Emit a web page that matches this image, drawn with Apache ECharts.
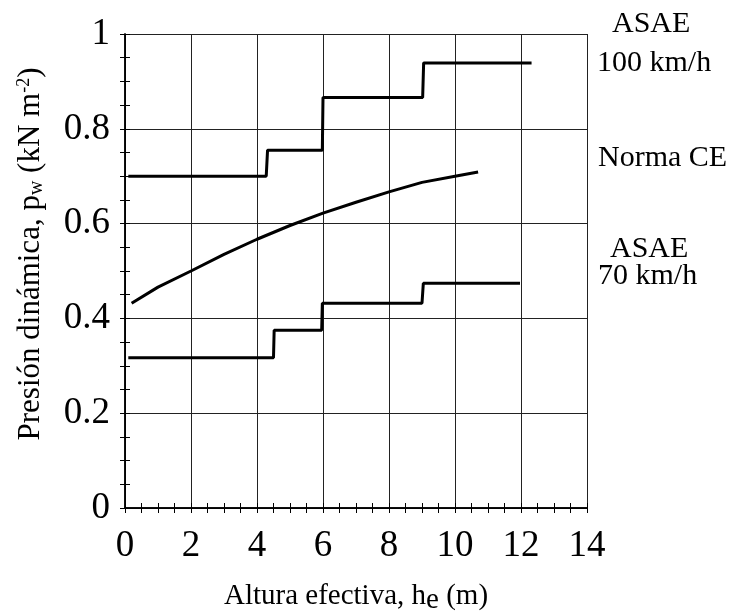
<!DOCTYPE html>
<html>
<head>
<meta charset="utf-8">
<script src="https://cdn.jsdelivr.net/npm/echarts@6/dist/echarts.min.js"></script>
<style>
  html, body { margin: 0; padding: 0; background: #fff; }
  #chart-container { width: 735px; height: 611px; }
</style>
</head>
<body>
<div id="chart-container"></div>
<script>
'use strict';

// ASAE 100 km/h, stepped profile [h (m), p (kN/m2)]
const asae100 = [
    [0.1, 0.700], [4.28, 0.700], [4.32, 0.755], [5.98, 0.755],
    [6.0, 0.866], [9.02, 0.866], [9.05, 0.939], [12.32, 0.939]
];
// ASAE 70 km/h
const asae70 = [
    [0.1, 0.317], [4.5, 0.317], [4.52, 0.375], [5.96, 0.375],
    [5.98, 0.432], [9.0, 0.432], [9.04, 0.474], [11.97, 0.474]
];
// Norma CE curve
const normaCE = [
    [0.2, 0.432], [1, 0.466], [2, 0.500], [3, 0.535], [4, 0.567],
    [5, 0.596], [6, 0.622], [7, 0.645], [8, 0.667], [9, 0.687],
    [10, 0.700], [10.7, 0.709]
];

const xTicks = [0, 2, 4, 6, 8, 10, 12, 14];
const yTicks = [0, 0.2, 0.4, 0.6, 0.8, 1];

const serif = 'Liberation Serif';
const noteFont = '30px "Liberation Serif"';

let myChart = echarts.init(
    document.getElementById('chart-container'),
    null,
    { renderer: 'canvas' }
);

const lineSeries = (name, data) => ({
    name: name,
    type: 'line',
    data: data,
    showSymbol: false,
    symbol: 'none',
    lineStyle: { color: '#000', width: 3 },
    silent: true,
    z: 5
});

const frameTicks = {
    axisLine: { show: true, lineStyle: { color: '#000', width: 1.5 } },
    axisTick: { show: true, inside: true, length: 5, lineStyle: { color: '#000' } },
    minorTick: { show: true, splitNumber: 4, length: 5, lineStyle: { color: '#000' } }
};

const option = {
    backgroundColor: '#fff',
    animation: false,
    grid: {
        left: 125, right: 148, top: 34, bottom: 103,
        containLabel: false,
        outerBoundsMode: 'none'
    },
    xAxis: [
        {
            type: 'value',
            min: xTicks[0],
            max: xTicks[xTicks.length - 1],
            interval: 2,
            position: 'bottom',
            ...frameTicks,
            axisLabel: {
                color: '#000', fontFamily: serif, fontSize: 37, margin: 20
            },
            splitLine: { show: true, lineStyle: { color: '#222', width: 1 } },
            name: '{t|Altura efectiva, h}{s|e}{t| (m)}',
            nameLocation: 'middle',
            nameGap: 70,
            nameTextStyle: {
                rich: {
                    t: { fontFamily: serif, fontSize: 29, color: '#000' },
                    s: { fontFamily: serif, fontSize: 29, color: '#000', verticalAlign: 'bottom', padding: [8, 0, 0, 0] }
                }
            }
        },
        {
            type: 'value',
            min: xTicks[0],
            max: xTicks[xTicks.length - 1],
            interval: 2,
            position: 'top',
            ...frameTicks,
            axisLabel: { show: false },
            splitLine: { show: false }
        }
    ],
    yAxis: [
        {
            type: 'value',
            min: yTicks[0],
            max: yTicks[yTicks.length - 1],
            interval: 0.2,
            position: 'left',
            ...frameTicks,
            axisLabel: {
                color: '#000', fontFamily: serif, fontSize: 37, margin: 15
            },
            splitLine: { show: true, lineStyle: { color: '#222', width: 1 } },
            name: '{t|Presión dinámica, p}{sub|w}{t| (kN m}{sup|-2}{t|)}',
            nameLocation: 'middle',
            nameGap: 78,
            nameRotate: 90,
            nameTextStyle: {
                padding: [0, 0, 0, 34],
                rich: {
                    t: { fontFamily: serif, fontSize: 31, color: '#000' },
                    sub: { fontFamily: serif, fontSize: 20, color: '#000', verticalAlign: 'bottom', padding: [10, 0, 0, 0] },
                    sup: { fontFamily: serif, fontSize: 18, color: '#000', verticalAlign: 'top', padding: [0, 0, 14, 0] }
                }
            }
        },
        {
            type: 'value',
            min: yTicks[0],
            max: yTicks[yTicks.length - 1],
            interval: 0.2,
            position: 'right',
            ...frameTicks,
            axisLabel: { show: false },
            splitLine: { show: false }
        }
    ],
    graphic: [
        { type: 'text', left: 612, top: 9, style: { text: 'ASAE', font: noteFont, fill: '#000' } },
        { type: 'text', left: 597, top: 48, style: { text: '100 km/h', font: noteFont, fill: '#000' } },
        { type: 'text', left: 598, top: 143, style: { text: 'Norma CE', font: noteFont, fill: '#000' } },
        { type: 'text', left: 610, top: 234, style: { text: 'ASAE', font: noteFont, fill: '#000' } },
        { type: 'text', left: 598, top: 261, style: { text: '70 km/h', font: noteFont, fill: '#000' } }
    ],
    series: [
        lineSeries('ASAE 100 km/h', asae100),
        lineSeries('Norma CE', normaCE),
        lineSeries('ASAE 70 km/h', asae70)
    ]
};

myChart.setOption(option);
window.addEventListener('resize', myChart.resize);
</script>
</body>
</html>
